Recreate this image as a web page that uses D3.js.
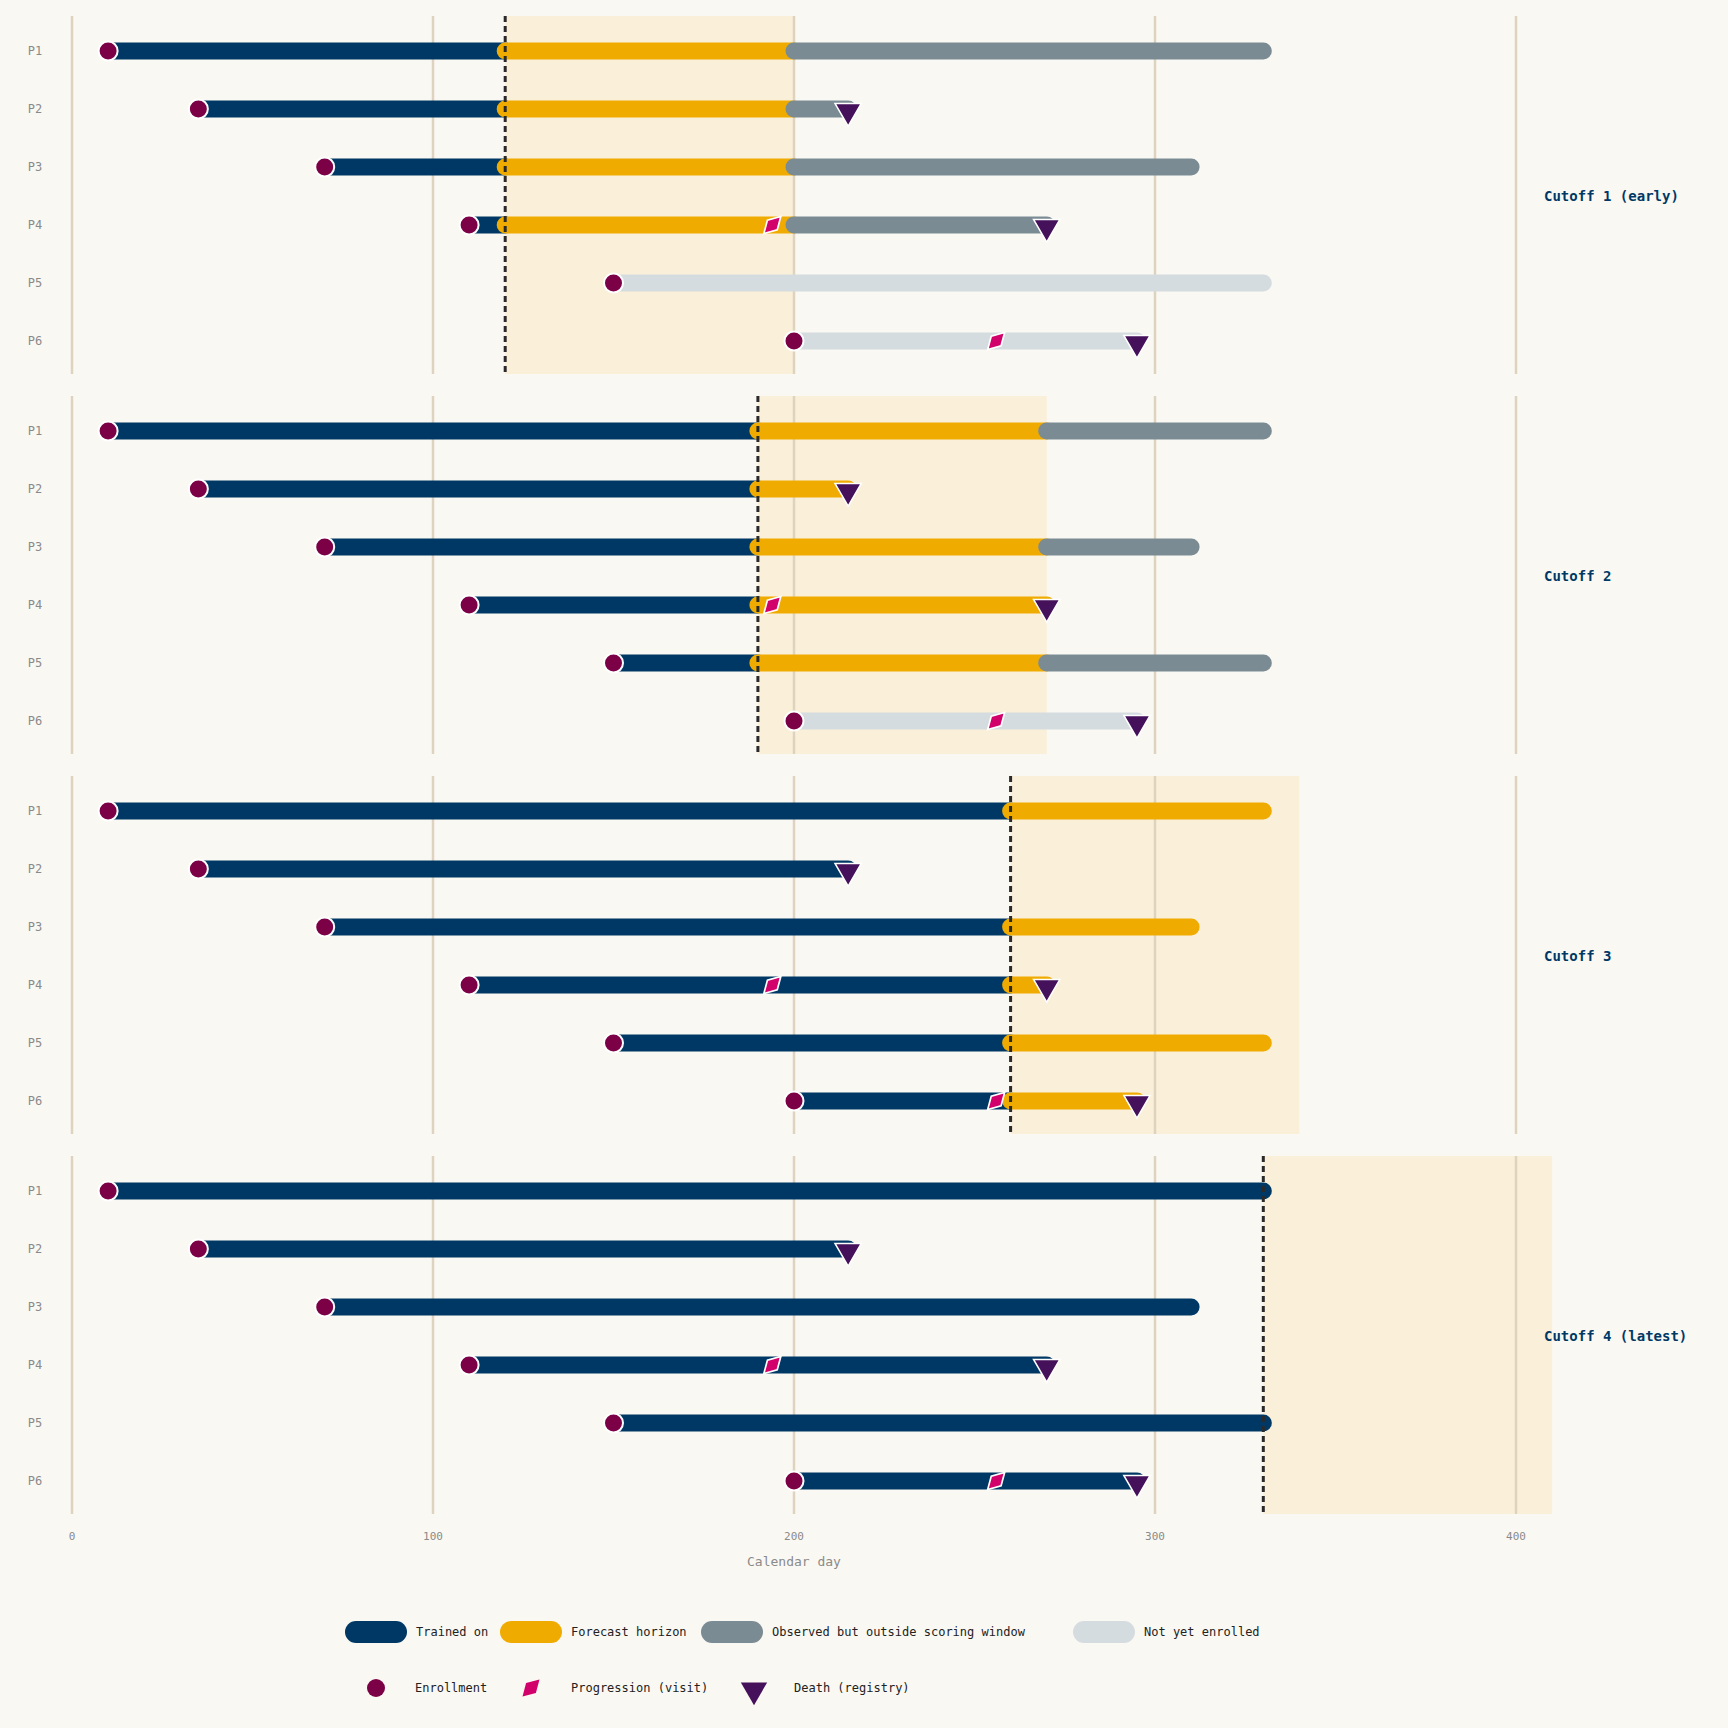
<!DOCTYPE html><html><head><meta charset="utf-8">
<script src="https://cdn.jsdelivr.net/npm/d3@7"></script>
<style>body{margin:0;background:#FAF8F3}</style></head><body>
<script>
const patients=["P1","P2","P3","P4","P5","P6"];
const enroll=[10,35,70,110,150,200];
const endDay=[330,215,310,270,330,295];
const death=[null,215,null,270,null,295];
const progression=[null,null,null,194,null,256];
const cutoffs=[120,190,260,330];
const cutoffLabels=["Cutoff 1 (early)","Cutoff 2","Cutoff 3","Cutoff 4 (latest)"];
const horizon=80;
const xTicks=[0,100,200,300,400];
const C={trained:"#003865",forecast:"#F0AB00",outside:"#7A8B94",notyet:"#D5DCE0"};
const W=1728,H=1728,font="'DejaVu Sans Mono', monospace";
const svg=d3.select("body").append("svg").attr("width",W).attr("height",H).style("background","#FAF8F3");
const x=d3.scaleLinear().domain([0,400]).range([72,1516]);
const panelTop=[16,396,776,1156],panelH=358;
cutoffs.forEach((c,pi)=>{
  const g=svg.append("g");
  const y=d3.scalePoint().domain(patients).range([panelTop[pi]+35,panelTop[pi]+35+5*58]);
  const t0=panelTop[pi],t1=t0+panelH;
  g.append("rect").attr("x",x(c)).attr("width",x(c+horizon)-x(c)).attr("y",t0).attr("height",panelH).attr("fill","#FAEFD9");
  xTicks.forEach(v=>g.append("line").attr("x1",x(v)).attr("x2",x(v)).attr("y1",t0).attr("y2",t1).attr("stroke","#DDD3BF").attr("stroke-width",2.5));
  patients.forEach((p,i)=>{
    const yy=y(p),s=enroll[i],e=endDay[i];
    const seg=(a,b,col)=>{if(b>a)g.append("line").attr("x1",x(a)).attr("x2",x(b)).attr("y1",yy).attr("y2",yy).attr("stroke",col).attr("stroke-width",17).attr("stroke-linecap","round");};
    if(s>=c){seg(s,e,C.notyet);}
    else{seg(s,Math.min(c,e),C.trained);
      if(e>c){seg(c,Math.min(c+horizon,e),C.forecast);
        if(e>c+horizon)seg(c+horizon,e,C.outside);}}
    g.append("text").attr("x",35).attr("y",yy+4).attr("text-anchor","middle").attr("font-family",font).attr("font-size",12).attr("fill","#8A8A8A").text(p);
    if(death[i]!=null)g.append("path").attr("d",d3.symbol(d3.symbolTriangle,300)()).attr("transform",`translate(${x(death[i])},${yy+2}) rotate(180)`).attr("fill","#45115A").attr("stroke","#fff").attr("stroke-width",1.5);
    g.append("circle").attr("cx",x(s)).attr("cy",yy).attr("r",9.5).attr("fill","#7B0046").attr("stroke","#fff").attr("stroke-width",2);
    if(progression[i]!=null)g.append("path").attr("d",d3.symbol(d3.symbolDiamond,230)()).attr("transform",`translate(${x(progression[i])},${yy}) rotate(45) scale(0.85)`).attr("fill","#D1006B").attr("stroke","#fff").attr("stroke-width",2);
  });
  g.append("line").attr("x1",x(c)).attr("x2",x(c)).attr("y1",t0).attr("y2",t1).attr("stroke","#2A2A2A").attr("stroke-width",3).attr("stroke-dasharray","6,4");
  g.append("text").attr("x",1544).attr("y",t0+185).attr("font-family",font).attr("font-weight","bold").attr("font-size",14).attr("fill","#003865").text(cutoffLabels[pi]);
});
xTicks.forEach(v=>svg.append("text").attr("x",x(v)).attr("y",1540).attr("text-anchor","middle").attr("font-family",font).attr("font-size",11).attr("fill","#8A8A8A").text(v));
svg.append("text").attr("x",x(200)).attr("y",1566).attr("text-anchor","middle").attr("font-family",font).attr("font-size",13).attr("fill","#8A8A8A").text("Calendar day");
const leg1=[["Trained on",C.trained,346],["Forecast horizon",C.forecast,501],["Observed but outside scoring window",C.outside,702],["Not yet enrolled",C.notyet,1074]];
leg1.forEach(([t,col,lx])=>{svg.append("line").attr("x1",lx+10).attr("x2",lx+50).attr("y1",1632).attr("y2",1632).attr("stroke",col).attr("stroke-width",22).attr("stroke-linecap","round");
  svg.append("text").attr("x",lx+70).attr("y",1636).attr("font-family",font).attr("font-size",12).attr("fill","#222").text(t);});
const ly=1688;
svg.append("circle").attr("cx",376).attr("cy",ly).attr("r",9).attr("fill","#7B0046");
svg.append("text").attr("x",415).attr("y",ly+4).attr("font-family",font).attr("font-size",12).attr("fill","#222").text("Enrollment");
svg.append("path").attr("d",d3.symbol(d3.symbolDiamond,230)()).attr("transform",`translate(531,${ly}) rotate(45) scale(0.85)`).attr("fill","#D1006B");
svg.append("text").attr("x",571).attr("y",ly+4).attr("font-family",font).attr("font-size",12).attr("fill","#222").text("Progression (visit)");
svg.append("path").attr("d",d3.symbol(d3.symbolTriangle,300)()).attr("transform",`translate(754,${ly+2}) rotate(180)`).attr("fill","#45115A");
svg.append("text").attr("x",794).attr("y",ly+4).attr("font-family",font).attr("font-size",12).attr("fill","#222").text("Death (registry)");
</script></body></html>
